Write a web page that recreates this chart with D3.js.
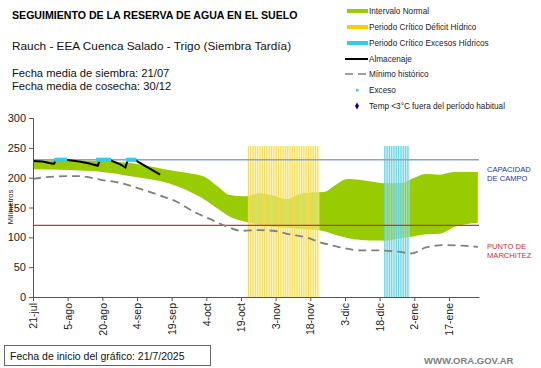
<!DOCTYPE html>
<html><head><meta charset="utf-8">
<script src="https://cdn.jsdelivr.net/npm/d3@7"></script>
<style>body{margin:0;background:#fff}svg{display:block;font-family:"Liberation Sans",Arial,sans-serif}</style>
</head><body><svg id="c" width="541" height="368"></svg>
<script>
// ---- data ----
const startDate = "2025-07-21";
const tickDays = [0,15,30,45,60,75,90,105,120,135,150,165,180];
const tickLabels = ["21-jul","5-ago","20-ago","4-sep","19-sep","4-oct","19-oct","3-nov","18-nov","3-dic","18-dic","2-ene","17-ene"];
const yTicks = [0,50,100,150,200,250,300];
const capacidad = 230;
const marchitez = 120;
// Intervalo normal: day offset, lower, upper
const bandDays  = [0,15,29,43,60,67,74,80,85,92,98,103,110,115,120,126,131,136,142,149,152,160,164,170,176,182,186,192.5];
const bandLower = [214,213,210,202,189,178,164,148,135,126,121,118,116,114,113,110,104,99,95.5,94.5,94.4,99,101,105,106,117,121,124.6];
const bandUpper = [229,229,228,224,212,208,202,185,171,169,174,171,164,172,175,176,188,197.8,196,192,190.5,191,198,206,205,209.5,209.5,209.5];
// Mínimo histórico
const minDays = [0,6,14,20,30,38,45,55,62,70,77,84,90,98,104,111,118,124,132,142,150,158,164,170,178,186,192.5];
const minVals = [198,201,202.5,202.5,196,191,183,170,160,142,130,118,111,112,111,105,100,92,84,78,78,76,73,83,87,86,84];
// Almacenaje
const almDays = [0,4,9,10,14,20,24,28,29,33,38,40,41,44,55];
const almVals = [228,227,223,230,230,227,224,220,230,230,222,217,230,230,205];
// Exceso days
const excesoDays = [10,11,12,13,14,28,29,30,31,32,33,41,42,43,44];
// Periodos críticos (daily columns)
const deficitStart = 93, deficitEnd = 123;
const excesoPerStart = 152, excesoPerEnd = 162;
const periodTop = 253;
const legendItems = ["Intervalo Normal","Periodo Crítico Déficit Hídrico","Periodo Crítico Excesos Hídricos","Almacenaje","Mínimo histórico","Exceso","Temp <3°C fuera del período habitual"];

// ---- scales ----
const svg = d3.select("#c");
const x = d3.scaleLinear().domain([0,193]).range([33,479]);
const y = d3.scaleLinear().domain([0,300]).range([297,118]);

// band
const bandData = bandDays.map((d,i)=>({d,lo:bandLower[i],hi:bandUpper[i]}));
svg.append("path").datum(bandData)
  .attr("d",d3.area().x(d=>x(d.d)).y0(d=>y(d.lo)).y1(d=>y(d.hi)).curve(d3.curveMonotoneX))
  .attr("fill","#99cc00");

// periods
const gP = svg.append("g");
function period(s,e,fill,line,op){
  const days = d3.range(s,e+1);
  gP.selectAll(null).data(days).enter().append("rect")
    .attr("x",d=>x(d)).attr("width",x(1)-x(0))
    .attr("y",y(periodTop)).attr("height",y(0)-y(periodTop))
    .attr("fill",fill).attr("opacity",op);
  gP.selectAll(null).data(days).enter().append("line")
    .attr("x1",d=>x(d)+0.5).attr("x2",d=>x(d)+0.5)
    .attr("y1",y(periodTop)).attr("y2",y(0))
    .attr("stroke",line).attr("stroke-width",1.1).attr("opacity",0.85);
}
period(deficitStart,deficitEnd,"#fff09a","#f2d94e",0.6);
period(excesoPerStart,excesoPerEnd,"#b3ebf3","#55cde0",0.6);

// reference lines
svg.append("line").attr("x1",x(0)).attr("x2",x(193)).attr("y1",y(capacidad)).attr("y2",y(capacidad))
  .attr("stroke","#8ea4bf").attr("stroke-width",1.5);
svg.append("line").attr("x1",x(0)).attr("x2",x(193)).attr("y1",y(marchitez)).attr("y2",y(marchitez))
  .attr("stroke","#c0392b").attr("stroke-width",1.2);

// min historico
svg.append("path").datum(minDays.map((d,i)=>[d,minVals[i]]))
  .attr("d",d3.line().x(d=>x(d[0])).y(d=>y(d[1])).curve(d3.curveMonotoneX))
  .attr("fill","none").attr("stroke","#808080").attr("stroke-width",1.8).attr("stroke-dasharray","8,5");

// almacenaje
svg.append("path").datum(almDays.map((d,i)=>[d,almVals[i]]))
  .attr("d",d3.line().x(d=>x(d[0])).y(d=>y(d[1])))
  .attr("fill","none").attr("stroke","#000").attr("stroke-width",2);

// exceso markers
svg.selectAll(null).data(excesoDays).enter().append("rect")
  .attr("x",d=>x(d)-1.8).attr("width",3.6).attr("y",y(capacidad)-2).attr("height",4)
  .attr("fill","#33ccee");

// axes
const yAxis = svg.append("g").attr("transform","translate(33,0)")
  .call(d3.axisLeft(y).tickValues(yTicks).tickSize(4).tickPadding(3));
const xAxis = svg.append("g").attr("transform","translate(0,297)")
  .call(d3.axisBottom(x).tickValues(tickDays).tickFormat((d,i)=>tickLabels[i]).tickSize(4).tickSizeOuter(0));
[yAxis,xAxis].forEach(g=>{
  g.select(".domain").attr("stroke","#555");
  g.selectAll(".tick line").attr("stroke","#555");
  g.selectAll("text").attr("fill","#222").style("font-size","11px").style("font-family","Liberation Sans, Arial");
});
xAxis.selectAll(".tick text").attr("transform","rotate(-90)").attr("text-anchor","end")
  .attr("x",-6).attr("y",0).attr("dy","0.35em").style("font-size","10.5px");

svg.append("text").attr("transform","translate(13,207) rotate(-90)").attr("text-anchor","middle")
  .style("font-size","7.5px").attr("fill","#222").text("Milímetros");

// titles
svg.append("text").attr("x",12).attr("y",19).style("font-size","10.6px").style("font-weight","bold").attr("fill","#000")
  .text("SEGUIMIENTO DE LA RESERVA DE AGUA  EN EL SUELO");
svg.append("text").attr("x",12).attr("y",50).style("font-size","11.8px").attr("fill","#111")
  .text("Rauch  - EEA Cuenca Salado - Trigo (Siembra Tardía)");
svg.append("text").attr("x",12).attr("y",76.5).style("font-size","11.2px").attr("fill","#111").text("Fecha media de siembra: 21/07");
svg.append("text").attr("x",12).attr("y",89.5).style("font-size","11.2px").attr("fill","#111").text("Fecha media de cosecha: 30/12");

// legend
const lg = svg.append("g");
const ly = [11,27,43,59,74,90,106];
legendItems.forEach((t,i)=>{
  lg.append("text").attr("x",369).attr("y",ly[i]+3).style("font-size","8.2px").attr("fill","#222").text(t);
});
lg.append("rect").attr("x",347).attr("y",ly[0]-2).attr("width",21).attr("height",4).attr("fill","#99cc00");
lg.append("rect").attr("x",347).attr("y",ly[1]-2).attr("width",21).attr("height",4).attr("fill","#ffcc00");
lg.append("rect").attr("x",347).attr("y",ly[2]-2).attr("width",21).attr("height",4).attr("fill","#33ccee");
lg.append("line").attr("x1",345).attr("x2",368).attr("y1",ly[3]).attr("y2",ly[3]).attr("stroke","#000").attr("stroke-width",2);
lg.append("line").attr("x1",345).attr("x2",368).attr("y1",ly[4]).attr("y2",ly[4]).attr("stroke","#808080").attr("stroke-width",1.5).attr("stroke-dasharray","8,5");
lg.append("rect").attr("x",356).attr("y",ly[5]-1).attr("width",2.5).attr("height",2.5).attr("fill","#33ccee");
lg.append("path").attr("d",d3.symbol(d3.symbolDiamond,14)()).attr("transform",`translate(357,${ly[6]})`).attr("fill","#000099");

// right labels
const rl = [["CAPACIDAD",172,"#333399"],["DE  CAMPO",181,"#333399"],["PUNTO  DE",249,"#cc3333"],["MARCHITEZ",258,"#cc3333"]];
rl.forEach(r=>svg.append("text").attr("x",487).attr("y",r[1]).style("font-size","7.6px").attr("fill",r[2]).text(r[0]));

// footer
svg.append("rect").attr("x",4.5).attr("y",345.5).attr("width",206).attr("height",20).attr("fill","none").attr("stroke","#666");
svg.append("text").attr("x",10).attr("y",360).style("font-size","10.5px").attr("fill","#111").text("Fecha de inicio del gráfico:  21/7/2025");
svg.append("text").attr("x",424).attr("y",364).style("font-size","9.5px").style("font-weight","bold").attr("fill","#808080").text("WWW.ORA.GOV.AR");
</script></body></html>
